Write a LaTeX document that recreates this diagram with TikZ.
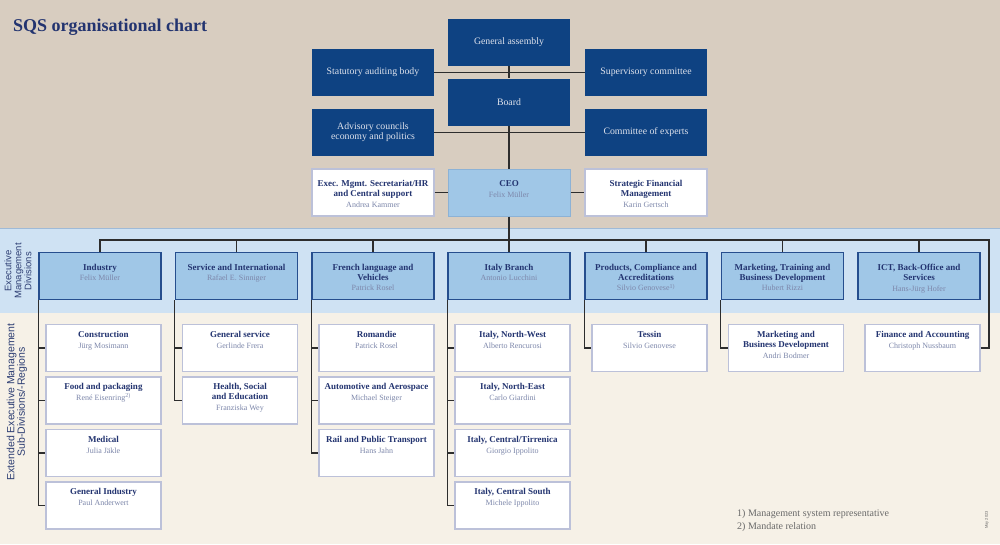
\documentclass[tikz,border=0pt]{standalone}
\usepackage{fontspec}
\setmainfont{Liberation Serif}
\setsansfont{Liberation Sans}
\usepackage{tikz}
\usetikzlibrary{positioning}

\definecolor{topbeige}{RGB}{216, 205, 192}
\definecolor{bandblue}{RGB}{207, 226, 243}
\definecolor{basecream}{RGB}{246, 241, 231}
\definecolor{sqsnavy}{RGB}{14, 66, 130}
\definecolor{govtext}{RGB}{222, 226, 236}
\definecolor{divblue}{RGB}{160, 199, 231}
\definecolor{divrim}{RGB}{38, 78, 142}
\definecolor{ceorim}{RGB}{140, 178, 214}
\definecolor{titlenavy}{RGB}{35, 52, 112}
\definecolor{namegray}{RGB}{125, 135, 170}
\definecolor{boxrim}{RGB}{188, 193, 217}
\definecolor{linkdark}{RGB}{45, 45, 45}
\definecolor{notegray}{RGB}{105, 105, 105}
\definecolor{sidenavy}{RGB}{45, 62, 115}

\newcommand{\titlefont}{\fontsize{9}{10}\selectfont\bfseries\color{titlenavy}}
\newcommand{\namefont}{\fontsize{8}{10}\selectfont\mdseries\color{namegray}}
\newcommand{\orgtext}[4]{\parbox[c][47pt][t]{#2}{\centering\fontsize{9}{10}\selectfont\vspace*{#1}\leavevmode{\titlefont #3}\\[0.7pt]{\namefont #4}}}
\newcommand{\divtext}[2]{\orgtext{11.5pt}{118pt}{#1}{#2}}
\newcommand{\subtext}[2]{\orgtext{6.7pt}{111pt}{#1}{#2}}

\begin{document}
\begin{tikzpicture}[x=1pt, y=-1pt,
    govbox/.style={fill=sqsnavy, text=govtext, minimum width=122pt, minimum height=47pt, inner sep=0pt, align=center, font=\fontsize{9.8}{10}\selectfont},
    staffbox/.style={fill=white, draw=boxrim, line width=1.4pt, minimum width=122pt, minimum height=47pt, inner sep=0pt},
    ceobox/.style={fill=divblue, draw=ceorim, line width=1pt, minimum width=122pt, minimum height=47pt, inner sep=0pt},
    divunit/.style={fill=divblue, draw=divrim, line width=1.6pt, minimum width=122pt, minimum height=47pt, inner sep=0pt},
    subunit/.style={fill=white, draw=boxrim, line width=1.4pt, minimum width=115pt, minimum height=47pt, inner sep=0pt},
    link/.style={draw=linkdark, line width=1.1pt},
    sidelabel/.style={rotate=90, align=center, text=sidenavy, inner sep=0pt},
    note/.style={anchor=base west, inner sep=0pt, text=notegray, font=\fontsize{10}{12}\selectfont}]

  % Backgrounds
  \useasboundingbox (0,0) rectangle (1000,544);
  \fill[topbeige] (0,0) rectangle (1000,228);
  \fill[bandblue] (0,228) rectangle (1000,313);
  \fill[basecream] (0,313) rectangle (1000,544);
  \draw[bandblue!75!sqsnavy, line width=0.6pt] (0,228.3) -- (1000,228.3);

  % Title
  \node[anchor=base west, inner sep=0pt, font=\fontsize{18}{21}\selectfont\bfseries, text=titlenavy] (title) at (13,31) {SQS organisational chart};

  % Governance
  \node[govbox] (ga) at (509,42.5) {General assembly};
  \node[govbox] (audit) at (373,72.5) {Statutory auditing body};
  \node[govbox] (superv) at (646,72.5) {Supervisory committee};
  \node[govbox] (board) at (509,102) {Board};
  \node[govbox] (advisory) at (373,132.5) {Advisory councils\\economy and politics};
  \node[govbox] (experts) at (646,132.5) {Committee of experts};

  % CEO and staff
  \node[staffbox] (secr) at (373,192.5) {\divtext{Exec. Mgmt. Secretariat/HR\\and Central support}{Andrea Kammer}};
  \node[ceobox] (ceo) at (509,192.5) {\divtext{CEO}{Felix Müller}};
  \node[staffbox] (sfm) at (646,192.5) {\divtext{Strategic Financial\\Management}{Karin Gertsch}};

  % Executive management divisions
  \node[divunit] (divInd) at (100,276) {\divtext{Industry}{Felix Müller}};
  \node[divunit] (divSrv) at (236.5,276) {\divtext{Service and International}{Rafael E. Sinniger}};
  \node[divunit] (divFr) at (373,276) {\divtext{French language and\\Vehicles}{Patrick Rosel}};
  \node[divunit] (divIt) at (509,276) {\divtext{Italy Branch}{Antonio Lucchini}};
  \node[divunit] (divPc) at (646,276) {\divtext{Products, Compliance and\\Accreditations}{Silvio Genovese\textsuperscript{1)}}};
  \node[divunit] (divMkt) at (782.5,276) {\divtext{Marketing, Training and\\Business Development}{Hubert Rizzi}};
  \node[divunit] (divIct) at (919,276) {\divtext{ICT, Back-Office and\\Services}{Hans-Jürg Hofer}};

  % Sub-divisions / regions
  \node[subunit] (indA) at (103.5,348) {\subtext{Construction}{Jürg Mosimann}};
  \node[subunit] (indB) at (103.5,400.5) {\subtext{Food and packaging}{René Eisenring\textsuperscript{2)}}};
  \node[subunit] (indC) at (103.5,453) {\subtext{Medical}{Julia Jäkle}};
  \node[subunit] (indD) at (103.5,505.5) {\subtext{General Industry}{Paul Anderwert}};
  \node[subunit] (srvA) at (240,348) {\subtext{General service}{Gerlinde Frera}};
  \node[subunit] (srvB) at (240,400.5) {\subtext{Health, Social\\and Education}{Franziska Wey}};
  \node[subunit] (frA) at (376.5,348) {\subtext{Romandie}{Patrick Rosel}};
  \node[subunit] (frB) at (376.5,400.5) {\subtext{Automotive and Aerospace}{Michael Steiger}};
  \node[subunit] (frC) at (376.5,453) {\subtext{Rail and Public Transport}{Hans Jahn}};
  \node[subunit] (itA) at (512.5,348) {\subtext{Italy, North-West}{Alberto Rencurosi}};
  \node[subunit] (itB) at (512.5,400.5) {\subtext{Italy, North-East}{Carlo Giardini}};
  \node[subunit] (itC) at (512.5,453) {\subtext{Italy, Central/Tirrenica}{Giorgio Ippolito}};
  \node[subunit] (itD) at (512.5,505.5) {\subtext{Italy, Central South}{Michele Ippolito}};
  \node[subunit] (pcA) at (649.5,348) {\subtext{Tessin}{Silvio Genovese}};
  \node[subunit] (mktA) at (786,348) {\subtext{Marketing and\\Business Development}{Andri Bodmer}};
  \node[subunit] (ictA) at (922.5,348) {\subtext{Finance and Accounting}{Christoph Nussbaum}};

  % Connectors, top
  \draw[link] (ga) -- (board) -- (ceo);
  \draw[link] (audit) -- (superv);
  \draw[link] (advisory) -- (experts);
  \draw[link] (secr) -- (ceo) -- (sfm);

  % Connectors, divisions
  \coordinate (busR) at (989,240);
  \draw[link] (ceo.south) -- (ceo.south |- busR);
  \draw[link] (ictA.east) -| (busR) -- (busR -| divInd.north) -- (divInd.north);
  \foreach \d in {divSrv,divFr,divIt,divPc,divMkt,divIct}
    \draw[link] (\d.north |- busR) -- (\d.north);

  % Connectors, sub-divisions
  \foreach \d/\c in {divInd/indD, divSrv/srvB, divFr/frC, divIt/itD, divPc/pcA, divMkt/mktA}
    \draw[link] (\d.south west) |- (\c.west);
  \foreach \d/\c in {divInd/indA, divInd/indB, divInd/indC, divSrv/srvA, divFr/frA, divFr/frB, divIt/itA, divIt/itB, divIt/itC}
    \draw[link] (\d.south west |- \c.west) -- (\c.west);

  % Side labels
  \node[sidelabel, font=\sffamily\fontsize{9.5}{10}\selectfont] (lblExec) at (18,271) {Executive\\Management\\Divisions};
  \node[sidelabel, font=\sffamily\fontsize{10.5}{10.5}\selectfont] (lblExt) at (17,402) {Extended Executive Management\\Sub-Divisions/-Regions};

  % Notes
  \node[note] (fn1) at (737,516) {1) Management system representative};
  \node[note] (fn2) at (737,529) {2) Mandate relation};
  \node[rotate=90, inner sep=0pt, text=notegray, font=\sffamily\fontsize{4}{4}\selectfont] (date) at (987,520) {May 2023};
\end{tikzpicture}
\end{document}
